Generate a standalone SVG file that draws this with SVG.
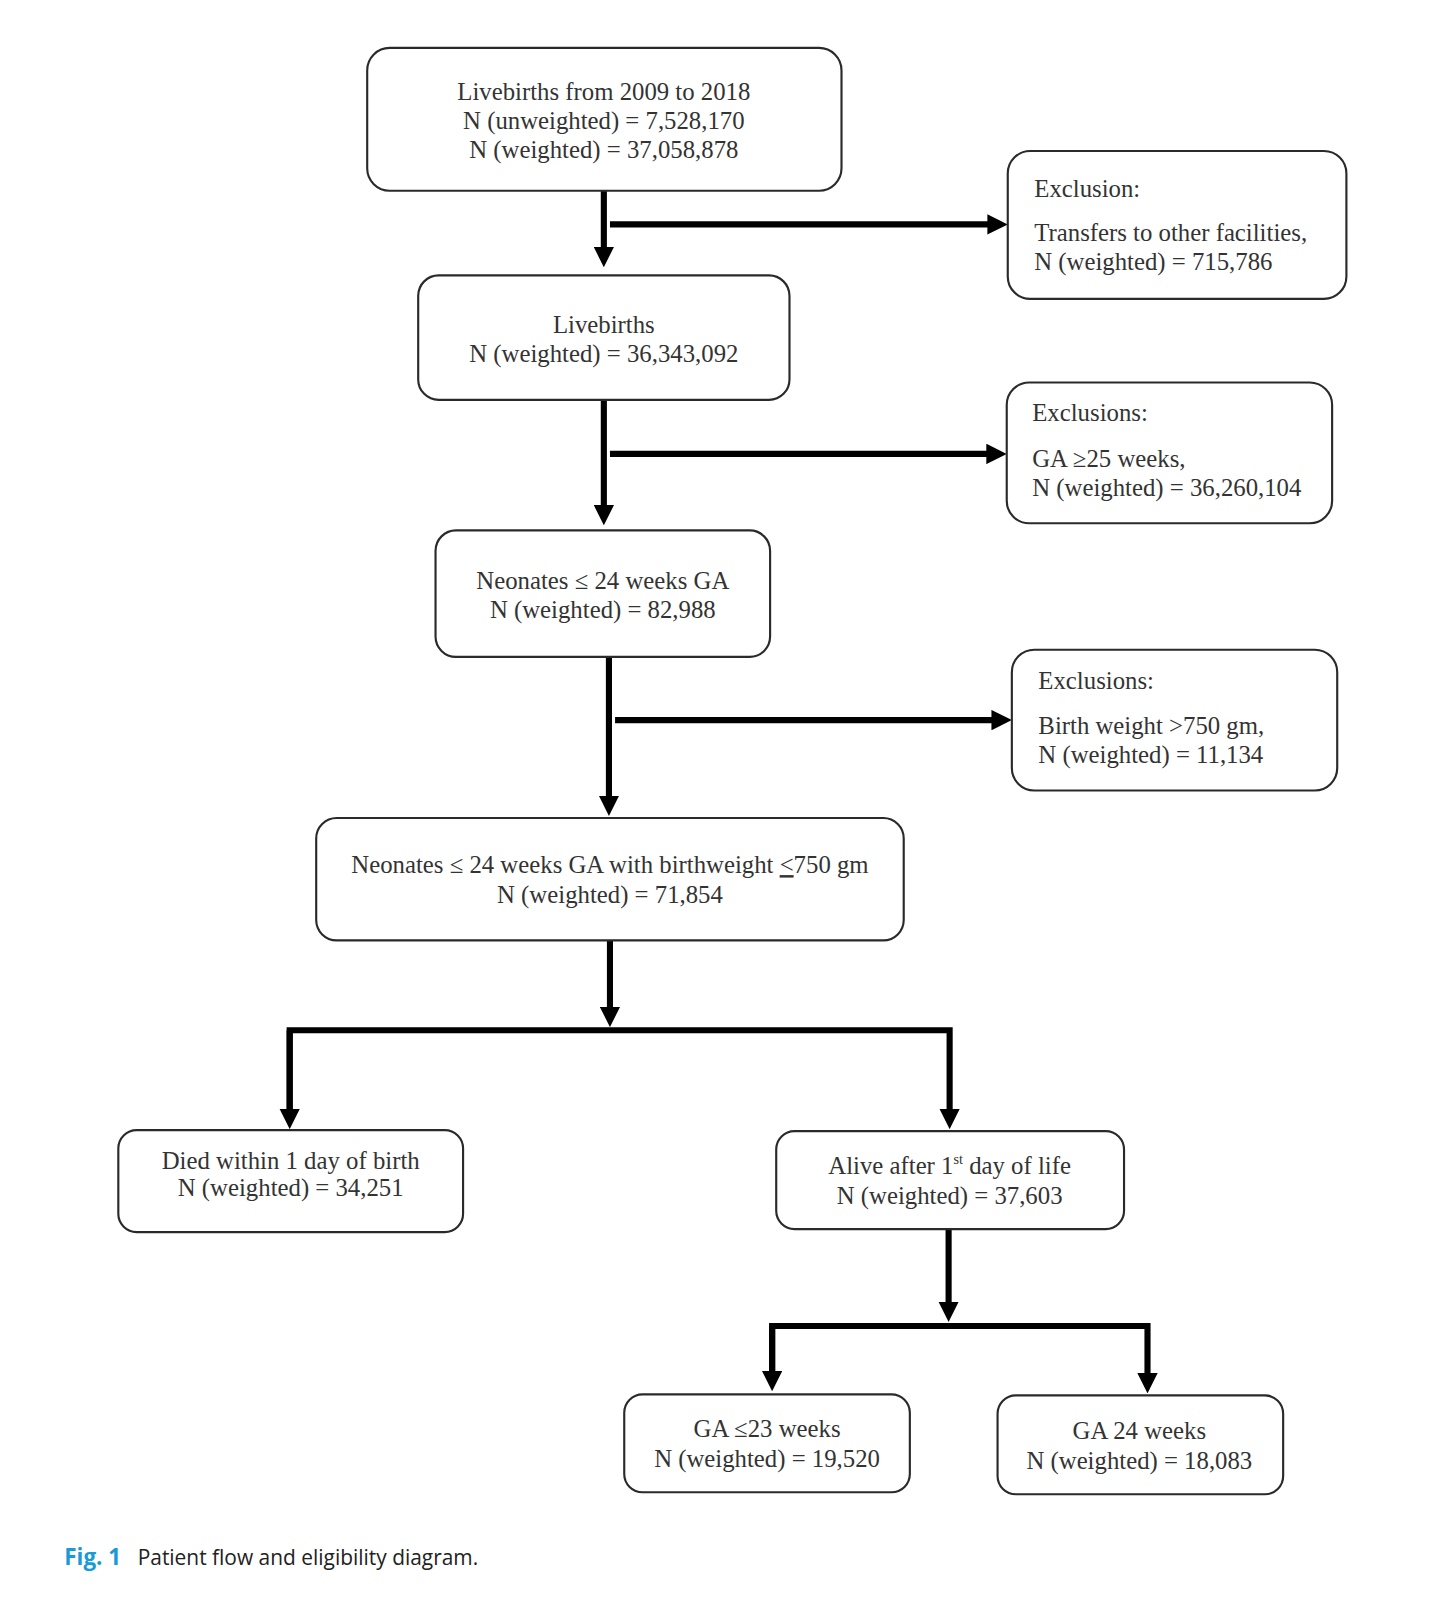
<svg xmlns="http://www.w3.org/2000/svg" width="1438" height="1600" viewBox="0 0 1438 1600">
<style>
.box{fill:#fff;stroke:#2a2a2a;stroke-width:2.1}
.t{font-family:"Liberation Serif","Times New Roman",serif;font-size:24.3px;fill:#333}
.c{text-anchor:middle}
.ln{stroke:#000;stroke-width:6;fill:none}
.cap{font-family:"Open Sans","Noto Sans",sans-serif;font-size:20.5px;fill:#222}
</style>
<defs>
<marker id="ah" viewBox="0 0 20 20" markerUnits="userSpaceOnUse" markerWidth="20" markerHeight="20" refX="8" refY="10" orient="auto">
<path d="M0,0 L20,10 L0,20 z" fill="#000"/>
</marker>
</defs>
<rect width="1438" height="1600" fill="#fff"/>
<g transform="scale(1.02)">
<g id="connectors">
<line class="ln" x1="592" y1="187" x2="592" y2="250" marker-end="url(#ah)"/>
<line class="ln" x1="598" y1="220" x2="976" y2="220" marker-end="url(#ah)"/>
<line class="ln" x1="592" y1="392" x2="592" y2="503" marker-end="url(#ah)"/>
<line class="ln" x1="598" y1="445" x2="975" y2="445" marker-end="url(#ah)"/>
<line class="ln" x1="597" y1="644" x2="597" y2="788" marker-end="url(#ah)"/>
<line class="ln" x1="603" y1="706" x2="980" y2="706" marker-end="url(#ah)"/>
<line class="ln" x1="598" y1="922" x2="598" y2="995" marker-end="url(#ah)"/>
<path class="ln" d="M284,1095 L284,1010 L931,1010 L931,1095" marker-end="url(#ah)"/>
<line class="ln" x1="284" y1="1010" x2="284" y2="1095" marker-end="url(#ah)"/>
<line class="ln" x1="930" y1="1205" x2="930" y2="1284" marker-end="url(#ah)"/>
<path class="ln" d="M757,1352 L757,1300 L1125,1300 L1125,1354" marker-end="url(#ah)"/>
<line class="ln" x1="757" y1="1300" x2="757" y2="1352" marker-end="url(#ah)"/>
</g>
<g id="n1">
<rect class="box" x="360" y="47" width="465" height="140" rx="22"/>
<text class="t c" x="592" y="98">Livebirths from 2009 to 2018</text>
<text class="t c" x="592" y="126">N (unweighted) = 7,528,170</text>
<text class="t c" x="592" y="155">N (weighted) = 37,058,878</text>
</g>
<g id="ex1">
<rect class="box" x="988" y="148" width="332" height="145" rx="22"/>
<text class="t" x="1014" y="193">Exclusion:</text>
<text class="t" x="1014" y="236">Transfers to other facilities,</text>
<text class="t" x="1014" y="265">N (weighted) = 715,786</text>
</g>
<g id="n2">
<rect class="box" x="410" y="270" width="364" height="122" rx="20"/>
<text class="t c" x="592" y="326">Livebirths</text>
<text class="t c" x="592" y="355">N (weighted) = 36,343,092</text>
</g>
<g id="ex2">
<rect class="box" x="987" y="375" width="319" height="138" rx="22"/>
<text class="t" x="1012" y="413">Exclusions:</text>
<text class="t" x="1012" y="458">GA ≥25 weeks,</text>
<text class="t" x="1012" y="486">N (weighted) = 36,260,104</text>
</g>
<g id="n3">
<rect class="box" x="427" y="520" width="328" height="124" rx="20"/>
<text class="t c" x="591" y="577">Neonates ≤ 24 weeks GA</text>
<text class="t c" x="591" y="606">N (weighted) = 82,988</text>
</g>
<g id="ex3">
<rect class="box" x="992" y="637" width="319" height="138" rx="22"/>
<text class="t" x="1018" y="675">Exclusions:</text>
<text class="t" x="1018" y="720">Birth weight &gt;750 gm,</text>
<text class="t" x="1018" y="748">N (weighted) = 11,134</text>
</g>
<g id="n4">
<rect class="box" x="310" y="802" width="576" height="120" rx="20"/>
<text class="t c" x="598" y="856">Neonates ≤ 24 weeks GA with birthweight <tspan text-decoration="underline">&lt;</tspan>750 gm</text>
<text class="t c" x="598" y="885">N (weighted) = 71,854</text>
</g>
<g id="n5">
<rect class="box" x="116" y="1108" width="338" height="100" rx="18"/>
<text class="t c" x="285" y="1146">Died within 1 day of birth</text>
<text class="t c" x="285" y="1173">N (weighted) = 34,251</text>
</g>
<g id="n6">
<rect class="box" x="761" y="1109" width="341" height="96" rx="18"/>
<text class="t c" x="931" y="1151">Alive after 1<tspan font-size="14" dy="-10">st</tspan><tspan dy="10"> day of life</tspan></text>
<text class="t c" x="931" y="1180">N (weighted) = 37,603</text>
</g>
<g id="n7">
<rect class="box" x="612" y="1367" width="280" height="96" rx="18"/>
<text class="t c" x="752" y="1409">GA ≤23 weeks</text>
<text class="t c" x="752" y="1438">N (weighted) = 19,520</text>
</g>
<g id="n8">
<rect class="box" x="978" y="1368" width="280" height="97" rx="18"/>
<text class="t c" x="1117" y="1411">GA 24 weeks</text>
<text class="t c" x="1117" y="1440">N (weighted) = 18,083</text>
</g>
<text class="cap" x="63" y="1534"><tspan fill="#1a9ad6" font-weight="bold" font-size="22">Fig. 1</tspan><tspan x="135">Patient flow and eligibility diagram.</tspan></text>
</g>
</svg>
